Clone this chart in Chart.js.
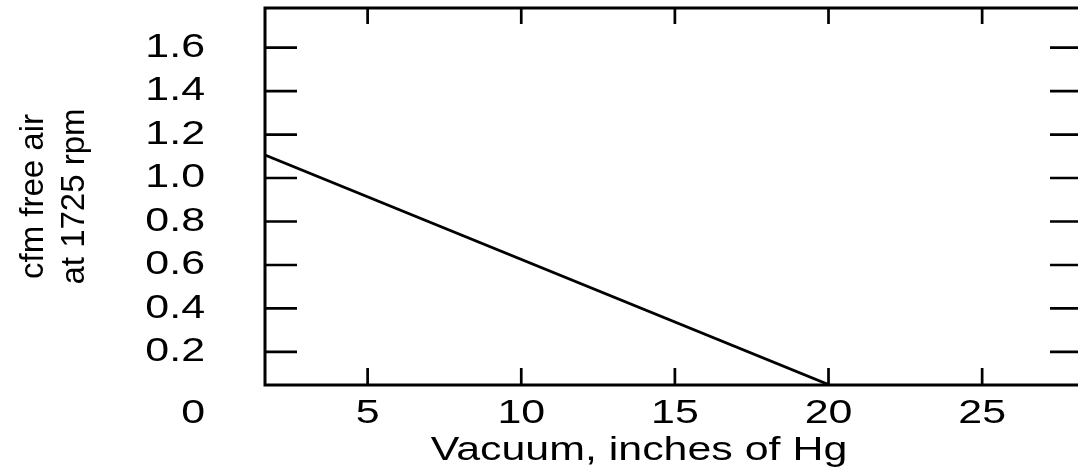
<!DOCTYPE html>
<html>
<head>
<meta charset="utf-8">
<script src="https://cdn.jsdelivr.net/npm/chart.js@4.4.1/dist/chart.umd.min.js"></script>
<style>
html, body { margin: 0; padding: 0; background: #fff; overflow: hidden; }
#wrap { width: 1084px; height: 470px; }
</style>
</head>
<body>
<div id="wrap"><canvas id="vac"></canvas></div>
<script>
// values
var vacuum = [1.66, 20];
var cfm = [1.106, 0.05];
var xTicks = [5, 10, 15, 20, 25];
var yTicks = [0.2, 0.4, 0.6, 0.8, 1.0, 1.2, 1.4, 1.6];
var cornerLabel = '0';
var xTitle = 'Vacuum, inches of Hg';
var yTitle = ['cfm free air', 'at 1725 rpm'];

var family = '"Liberation Sans", Arial, Helvetica, sans-serif';
var wideText = 1.3;   // horizontal labels in the reference are drawn extra wide

Chart.defaults.font.family = family;
Chart.defaults.color = '#000';

var canvas = document.getElementById('vac');
var ctx = canvas.getContext('2d');

// stretch unrotated text sideways, leave rotated text as it is
var rawFill = CanvasRenderingContext2D.prototype.fillText;
ctx.fillText = function (text, x, y, maxWidth) {
    var m = this.getTransform();
    var s = Math.abs(m.b) > 1e-6 ? 1 : wideText;
    this.save();
    this.translate(x, y);
    this.scale(s, 1);
    if (maxWidth === undefined) rawFill.call(this, text, 0, 0);
    else rawFill.call(this, text, 0, 0, maxWidth / s);
    this.restore();
};

var frame = {
    id: 'frame',
    afterDatasetsDraw: function (chart) {
        var c = chart.ctx, a = chart.chartArea;
        var xs = chart.scales.x, ys = chart.scales.y;
        c.save();
        c.strokeStyle = '#000';
        c.lineWidth = 3;
        c.strokeRect(a.left, a.top, a.right - a.left, a.bottom - a.top);
        c.lineWidth = 2.7;
        c.beginPath();
        xTicks.forEach(function (v) {
            var px = xs.getPixelForValue(v);
            c.moveTo(px, a.bottom); c.lineTo(px, a.bottom - 17);
            c.moveTo(px, a.top); c.lineTo(px, a.top + 16);
        });
        yTicks.forEach(function (v) {
            var py = ys.getPixelForValue(v);
            c.moveTo(a.left, py); c.lineTo(a.left + 32, py);
            c.moveTo(a.right, py); c.lineTo(a.right - 32, py);
        });
        c.stroke();

        c.fillStyle = '#000';
        c.font = '33px ' + family;
        c.textBaseline = 'middle';
        c.textAlign = 'right';
        c.fillText(cornerLabel, a.left - 60, a.bottom + 28.5);
        c.textAlign = 'center';
        c.fillText(xTitle, 639, 451);
        c.restore();
    }
};

function noPad(s) {
    s.paddingTop = 0; s.paddingBottom = 0; s.paddingLeft = 0; s.paddingRight = 0;
}

new Chart(ctx, {
    type: 'scatter',
    data: {
        datasets: [{
            data: vacuum.map(function (v, i) { return { x: v, y: cfm[i] }; }),
            showLine: true,
            borderColor: '#000',
            borderWidth: 2.8,
            pointRadius: 0,
            fill: false
        }]
    },
    options: {
        responsive: true,
        maintainAspectRatio: false,
        animation: false,
        devicePixelRatio: 1,
        layout: { autoPadding: false, padding: { top: 8, right: 2, left: 0, bottom: 0 } },
        plugins: { legend: { display: false }, tooltip: { enabled: false } },
        scales: {
            x: {
                type: 'linear',
                min: 1.66,
                max: 28.25,
                grid: { display: false, drawTicks: false },
                border: { display: false },
                afterBuildTicks: function (s) { s.ticks = xTicks.map(function (v) { return { value: v }; }); },
                afterFit: function (s) { s.height = 85; noPad(s); },
                ticks: { padding: 8.7, maxRotation: 0, autoSkip: false, font: { size: 33 }, color: '#000' }
            },
            y: {
                type: 'linear',
                min: 0.048,
                max: 1.782,
                grid: { display: false, drawTicks: false },
                border: { display: false },
                afterBuildTicks: function (s) { s.ticks = yTicks.map(function (v) { return { value: v }; }); },
                afterFit: function (s) { s.width = 265; noPad(s); },
                ticks: {
                    padding: 60, autoSkip: false, font: { size: 33 }, color: '#000',
                    callback: function (v) { return v.toFixed(1); }
                },
                title: {
                    display: true, text: yTitle, color: '#000',
                    font: { size: 33, lineHeight: 1.24 },
                    padding: { top: 13.5, bottom: 0 }
                }
            }
        }
    },
    plugins: [frame]
});
</script>
</body>
</html>
